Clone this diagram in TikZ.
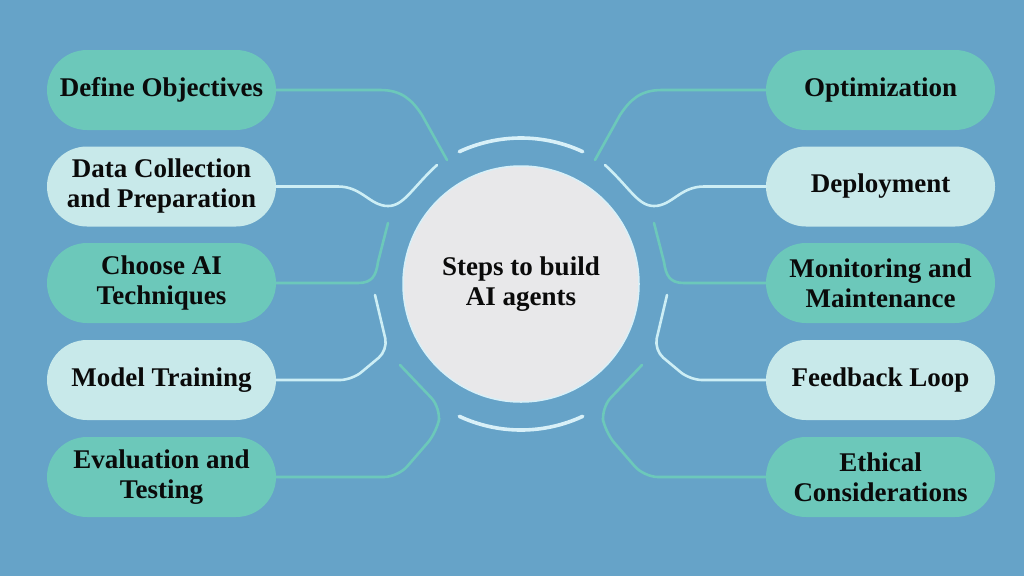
\documentclass[tikz,border=0pt]{standalone}
\usepackage{fontspec}
\setmainfont{Liberation Serif}
\definecolor{bgc}{HTML}{66A3C8}
\definecolor{tealc}{HTML}{6CC8BA}
\definecolor{lightc}{HTML}{C8E9EA}
\definecolor{circc}{HTML}{E8E8EA}
\definecolor{linelight}{HTML}{CDEEF5}
\definecolor{arcc}{HTML}{D8F0F8}
\definecolor{txt}{HTML}{0A0A0A}
\begin{document}
\begin{tikzpicture}[x=1pt,y=-1pt,
  pill/.style={rectangle, rounded corners=40pt, minimum width=229pt, minimum height=80pt,
    inner sep=0pt, align=center, text=txt,
    font=\fontsize{27}{30}\selectfont\bfseries},
  tealpill/.style={pill, fill=tealc},
  lightpill/.style={pill, fill=lightc},
  tline/.style={draw=tealc, line width=2.6pt, line cap=round},
  lline/.style={draw=linelight, line width=2.6pt, line cap=round},
  ring/.style={draw=arcc, line width=3.6pt, line cap=round}]
\fill[bgc] (0,0) rectangle (1024,576);

\node[circle, minimum size=236pt, inner sep=0pt, fill=circc, draw=arcc, line width=1.5pt,
  align=center, text=txt, font=\fontsize{27}{30}\selectfont\bfseries] (C) at (521,284) {Steps to build\\AI agents};

\node[tealpill]  (D1) at (161.5,90)  {Define Objectives};
\node[lightpill] (D2) at (161.5,186.5) {Data Collection\\and Preparation};
\node[tealpill]  (D3) at (161.5,283) {Choose AI\\Techniques};
\node[lightpill] (D4) at (161.5,380) {Model Training};
\node[tealpill]  (D5) at (161.5,477) {Evaluation and\\Testing};

\node[tealpill]  (R1) at (880.5,90)  {Optimization};
\node[lightpill] (R2) at (880.5,186.5) {Deployment};
\node[tealpill]  (R3) at (880.5,283) {Monitoring and\\Maintenance};
\node[lightpill] (R4) at (880.5,380) {Feedback Loop};
\node[tealpill]  (R5) at (880.5,477) {Ethical\\Considerations};

% free ends near the ring
\coordinate (e1) at (447,160);
\coordinate (e2) at (437,165);
\coordinate (e3) at (388,223);
\coordinate (e4) at (375,295);
\coordinate (e5) at (400,365);
\coordinate (f1) at (595,160);
\coordinate (f2) at (605,165);
\coordinate (f3) at (654,223);
\coordinate (f4) at (667,295);
\coordinate (f5) at (642,365);

% left connectors
\draw[tline] (D1.east) -- (380,90) .. controls (402,90) and (412,100) .. (422,115) -- (e1);
\draw[lline] (D2.east) -- (338,186.5) .. controls (362,186.5) and (370,206) .. (388,206) .. controls (404,206) and (412,188) .. (e2);
\draw[tline] (D3.east) -- (358,283) .. controls (372,283) and (376,276) .. (378,262) -- (e3);
\draw[lline, rounded corners=12pt] (e4) -- (388,350) -- (352,380) -- (D4.east);
\draw[tline, rounded corners=14pt] (e5) -- (441,408) -- (437,432) -- (398,477) -- (D5.east);

% right connectors
\draw[tline] (R1.west) -- (662,90) .. controls (640,90) and (630,100) .. (620,115) -- (f1);
\draw[lline] (R2.west) -- (704,186.5) .. controls (680,186.5) and (672,206) .. (654,206) .. controls (638,206) and (630,188) .. (f2);
\draw[tline] (R3.west) -- (684,283) .. controls (670,283) and (666,276) .. (664,262) -- (f3);
\draw[lline, rounded corners=12pt] (f4) -- (654,350) -- (690,380) -- (R4.west);
\draw[tline, rounded corners=14pt] (f5) -- (601,408) -- (605,432) -- (644,477) -- (R5.west);

% ring arcs
\draw[ring] (C.center) ++(115:146pt) arc[start angle=115, end angle=65, radius=146pt];
\draw[ring] (C.center) ++(245:146pt) arc[start angle=245, end angle=295, radius=146pt];
\end{tikzpicture}
\end{document}
